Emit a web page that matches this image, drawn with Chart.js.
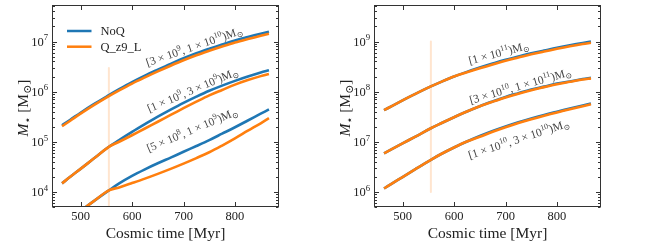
<!DOCTYPE html>
<html><head><meta charset="utf-8">
<script src="https://cdn.jsdelivr.net/npm/chart.js@4.4.0/dist/chart.umd.min.js"></script>
<style>
html,body{margin:0;padding:0;background:#fff;}
#wrap{position:relative;width:664px;height:249px;background:#fff;}
canvas{position:absolute;top:0;}
</style></head><body>
<div id="wrap">
<canvas id="c1" width="300" height="249" style="left:0;width:300px;height:249px"></canvas>
<canvas id="c2" width="300" height="249" style="left:322px;width:300px;height:249px"></canvas>
</div>
<script>
// ---- data (cosmic time in Myr, stellar mass in Msun) ----
const times = [464, 480, 500, 525, 555, 575, 600, 625, 650, 675, 700, 725, 750, 775, 800, 825, 850, 866];

// left panel
const leftHighNoQ = [2.14e5, 2.75e5, 3.80e5, 5.56e5, 8.51e5, 1.12e6, 1.55e6, 2.09e6, 2.75e6, 3.59e6, 4.62e6, 5.82e6, 7.16e6, 8.71e6, 1.05e7, 1.23e7, 1.43e7, 1.57e7];
const leftHighQ   = [2.04e5, 2.63e5, 3.63e5, 5.31e5, 8.13e5, 1.06e6, 1.45e6, 1.93e6, 2.54e6, 3.29e6, 4.22e6, 5.31e6, 6.53e6, 7.94e6, 9.55e6, 1.12e7, 1.30e7, 1.43e7];
const leftMidNoQ  = [1.48e4, 2.00e4, 2.88e4, 4.57e4, 7.94e4, 1.08e5, 1.57e5, 2.24e5, 3.16e5, 4.37e5, 5.96e5, 7.94e5, 1.04e6, 1.32e6, 1.64e6, 2.00e6, 2.40e6, 2.66e6];
const leftMidQ    = [1.48e4, 2.00e4, 2.88e4, 4.57e4, 7.94e4, 1.00e5, 1.35e5, 1.84e5, 2.51e5, 3.43e5, 4.68e5, 6.31e5, 8.41e5, 1.08e6, 1.38e6, 1.70e6, 2.04e6, 2.26e6];
const leftLowNoQ  = [2.24e3, 2.95e3, 4.17e3, 6.46e3, 1.07e4, 1.48e4, 2.09e4, 2.82e4, 3.72e4, 4.84e4, 6.31e4, 8.22e4, 1.08e5, 1.45e5, 1.95e5, 2.66e5, 3.63e5, 4.42e5];
const leftLowQ    = [2.24e3, 2.95e3, 4.17e3, 6.46e3, 1.07e4, 1.23e4, 1.50e4, 1.84e4, 2.29e4, 2.88e4, 3.67e4, 4.73e4, 6.17e4, 8.41e4, 1.17e5, 1.66e5, 2.34e5, 2.95e5];

// right panel
const rightHighNoQ = [4.27e7, 5.21e7, 6.67e7, 9.00e7, 1.27e8, 1.57e8, 2.00e8, 2.48e8, 3.02e8, 3.63e8, 4.32e8, 5.01e8, 5.82e8, 6.61e8, 7.50e8, 8.41e8, 9.33e8, 1.00e9];
const rightHighQ   = [4.27e7, 5.21e7, 6.67e7, 9.00e7, 1.27e8, 1.57e8, 2.00e8, 2.43e8, 2.92e8, 3.47e8, 4.12e8, 4.79e8, 5.56e8, 6.31e8, 7.16e8, 8.04e8, 8.91e8, 9.44e8];
const rightMidNoQ  = [5.89e6, 7.21e6, 9.29e6, 1.27e7, 1.86e7, 2.34e7, 3.09e7, 4.03e7, 5.13e7, 6.38e7, 7.85e7, 9.33e7, 1.10e8, 1.26e8, 1.45e8, 1.60e8, 1.78e8, 1.89e8];
const rightMidQ    = [5.89e6, 7.21e6, 9.29e6, 1.27e7, 1.86e7, 2.34e7, 3.09e7, 4.03e7, 5.13e7, 6.31e7, 7.67e7, 9.12e7, 1.07e8, 1.23e8, 1.41e8, 1.57e8, 1.74e8, 1.84e8];
const rightLowNoQ  = [1.17e6, 1.48e6, 1.98e6, 2.85e6, 4.37e6, 5.70e6, 7.69e6, 1.01e7, 1.30e7, 1.64e7, 2.02e7, 2.45e7, 2.92e7, 3.43e7, 3.98e7, 4.60e7, 5.30e7, 5.78e7];
const rightLowQ    = [1.17e6, 1.48e6, 1.98e6, 2.85e6, 4.37e6, 5.70e6, 7.69e6, 1.01e7, 1.26e7, 1.58e7, 1.95e7, 2.37e7, 2.82e7, 3.31e7, 3.85e7, 4.45e7, 5.12e7, 5.58e7];

// vertical marker lines
const vlineLeftT = [555, 555];
const vlineLeftM = [2.95e6, 1.0e3];
const vlineRightT = [555, 555];
const vlineRightM = [1.0e9, 1.0e6];

// ticks
const xTicks = [500, 600, 700, 800];
const leftYExps = [4, 5, 6, 7];
const rightYExps = [6, 7, 8, 9];
const seriesNames = ['NoQ', 'Q_z9_L'];

// ---- styling / rendering ----
const BLUE = '#1f77b4', ORANGE = '#ff7f0e';
const SERIF = '"Liberation Serif","DejaVu Serif","DejaVu Sans",serif';
function setFont(ctx, size, it){ ctx.font = (it?'italic ':'') + size.toFixed(2) + 'px ' + SERIF; }
function segSize(g, size){ return g.s ? size*0.7 : size; }
function richWidth(ctx, segs, size){ let w=0; for(const g of segs){ setFont(ctx, segSize(g,size), g.it); w += ctx.measureText(g.t).width; } return w; }
function drawRich(ctx, segs, x, y, size, align){
  const w = richWidth(ctx, segs, size);
  let cx = align==='center' ? x-w/2 : (align==='right' ? x-w : x);
  ctx.textAlign='left'; ctx.textBaseline='alphabetic';
  for(const g of segs){
    const sz = segSize(g,size); setFont(ctx, sz, g.it);
    const dy = g.s==='sup' ? -size*0.42 : (g.s==='sub' ? size*0.22 : 0);
    ctx.fillText(g.t, cx, y+dy);
    cx += ctx.measureText(g.t).width;
  }
}
const MSUN = [{t:')M'},{t:'⊙',s:'sub'}];

const framePlugin = {
  id:'frame',
  afterDraw(chart, args, o){
    const ctx = chart.ctx;
    const {left,right,top,bottom} = chart.chartArea;
    const xs = chart.scales.x, ys = chart.scales.y;
    ctx.save();
    ctx.strokeStyle = '#333'; ctx.lineWidth = 1;
    const L = Math.round(left)+0.5, R = Math.round(right)-0.5, T = Math.round(top)+0.5, B = Math.round(bottom)-0.5;
    ctx.strokeRect(L, T, R-L, B-T);
    ctx.beginPath();
    const e0 = Math.floor(Math.log10(ys.min)), e1 = Math.ceil(Math.log10(ys.max));
    for(let e=e0; e<=e1; e++){
      for(let k=1;k<10;k++){
        const v = k*Math.pow(10,e);
        if(v < ys.min || v > ys.max) continue;
        const py = Math.round(ys.getPixelForValue(v))+0.5;
        const len = k===1 ? 4.5 : 2.5;
        ctx.moveTo(L, py); ctx.lineTo(L+len, py);
        ctx.moveTo(R, py); ctx.lineTo(R-len, py);
      }
    }
    for(const t of xTicks){
      const px = Math.round(xs.getPixelForValue(t))+0.5;
      ctx.moveTo(px, B); ctx.lineTo(px, B-4.5);
      ctx.moveTo(px, T); ctx.lineTo(px, T+4.5);
    }
    ctx.stroke();
    ctx.fillStyle = '#222';
    for(const e of o.yExps){
      const py = ys.getPixelForValue(Math.pow(10,e));
      drawRich(ctx, [{t:'10'},{t:String(e),s:'sup'}], left-4, py+4, 12.5, 'right');
    }
    for(const t of xTicks){
      const px = xs.getPixelForValue(t);
      drawRich(ctx, [{t:String(t)}], px, bottom+13, 12.5, 'center');
    }
    drawRich(ctx, [{t:'Cosmic time [Myr]'}], (left+right)/2, bottom+30.5, 15.5, 'center');
    ctx.save();
    ctx.translate(28, (top+bottom)/2 + 2);
    ctx.rotate(-Math.PI/2);
    drawRich(ctx, [{t:'M',it:true},{t:'⋆',s:'sub'},{t:' [M'},{t:'⊙',s:'sub'},{t:']'}], 0, 0, 15.5, 'center');
    ctx.restore();
    if(o.legend){
      const items = [[BLUE, seriesNames[0]], [ORANGE, seriesNames[1]]];
      items.forEach((it, i) => {
        const ly = top + 26 + i*15.7;
        ctx.strokeStyle = it[0]; ctx.lineWidth = 2.5;
        ctx.beginPath(); ctx.moveTo(left+15, ly); ctx.lineTo(left+39.5, ly); ctx.stroke();
        ctx.fillStyle = '#222';
        drawRich(ctx, [{t:it[1]}], left+48.5, ly+4.3, 12.5, 'left');
      });
    }
    ctx.fillStyle = '#444';
    for(const n of o.notes){
      const px = xs.getPixelForValue(n.x), py = ys.getPixelForValue(n.y);
      ctx.save();
      ctx.translate(px, py);
      ctx.rotate(n.a*Math.PI/180);
      drawRich(ctx, n.segs, 0, 3.5, 11.5, 'center');
      ctx.restore();
    }
    ctx.restore();
  }
};

function buildChart(id, yMin, yMax, series, vT, vM, yExps, notes, legend){
  const mk = arr => times.map((t,i) => ({x:t, y:arr[i]}));
  const datasets = [{
    data: vT.map((t,i)=>({x:t, y:vM[i]})), borderColor:'rgba(255,127,14,0.2)', borderWidth:2, order:5, tension:0, clip:0
  }];
  for(const s of series){
    datasets.push({label:seriesNames[0], data:mk(s[0]), borderColor:BLUE, borderWidth:2.6, order:3, clip:0});
    datasets.push({label:seriesNames[1], data:mk(s[1]), borderColor:ORANGE, borderWidth:2.6, order:1, clip:0});
  }
  return new Chart(document.getElementById(id), {
    type:'line',
    data:{datasets},
    options:{
      responsive:false, animation:false, devicePixelRatio:1,
      layout:{padding:{top:5, right:21, left:0, bottom:0}},
      elements:{point:{radius:0}, line:{tension:0.35, borderCapStyle:'butt', borderJoinStyle:'round'}},
      plugins:{legend:{display:false}, tooltip:{enabled:false}, frame:{yExps, notes, legend}},
      scales:{
        x:{type:'linear', min:444.5, max:885.5, bounds:'data', ticks:{display:false}, grid:{display:false}, border:{display:false}, afterFit(s){ s.height = 42; }},
        y:{type:'logarithmic', min:yMin, max:yMax, bounds:'data', ticks:{display:false}, grid:{display:false}, border:{display:false}, afterFit(s){ s.width = 52; }}
      }
    },
    plugins:[framePlugin]
  });
}

const leftNotes = [
  {x:721, y:7.9e6, a:-19, segs:[{t:'[3 × 10'},{t:'9',s:'sup'},{t:', 1 × 10'},{t:'10',s:'sup'}].concat(MSUN)},
  {x:718, y:1.07e6, a:-23, segs:[{t:'[1 × 10'},{t:'9',s:'sup'},{t:', 3 × 10'},{t:'9',s:'sup'}].concat(MSUN)},
  {x:717, y:1.71e5, a:-23, segs:[{t:'[5 × 10'},{t:'8',s:'sup'},{t:', 1 × 10'},{t:'9',s:'sup'}].concat(MSUN)}
];
const rightNotes = [
  {x:687, y:5.86e8, a:-15, segs:[{t:'[1 × 10'},{t:'11',s:'sup'}].concat(MSUN)},
  {x:729, y:1.29e8, a:-16, segs:[{t:'[3 × 10'},{t:'10',s:'sup'},{t:', 1 × 10'},{t:'11',s:'sup'}].concat(MSUN)},
  {x:726, y:1.12e7, a:-18, segs:[{t:'[1 × 10'},{t:'10',s:'sup'},{t:', 3 × 10'},{t:'10',s:'sup'}].concat(MSUN)}
];

buildChart('c1', 5.0e3, 5.35e7,
  [[leftHighNoQ, leftHighQ], [leftMidNoQ, leftMidQ], [leftLowNoQ, leftLowQ]],
  vlineLeftT, vlineLeftM, leftYExps, leftNotes, true);
buildChart('c2', 5.0e5, 5.35e9,
  [[rightHighNoQ, rightHighQ], [rightMidNoQ, rightMidQ], [rightLowNoQ, rightLowQ]],
  vlineRightT, vlineRightM, rightYExps, rightNotes, false);
</script>
</body></html>
